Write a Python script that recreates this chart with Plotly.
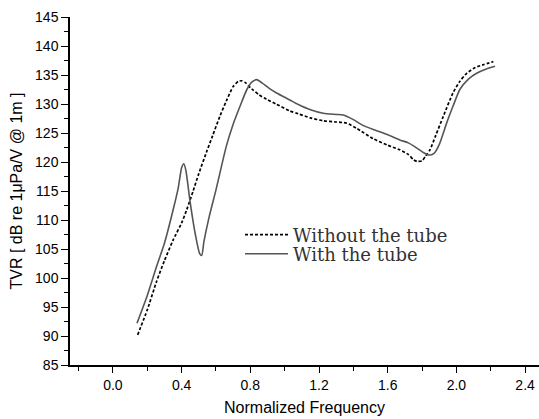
import plotly.graph_objects as go

# Normalized frequency / TVR (dB re 1uPa/V @ 1m) for the transducer without the tube
freq_without = [0.144, 0.20, 0.254, 0.30, 0.35, 0.40, 0.43, 0.467, 0.50, 0.546, 0.58,
                0.623, 0.66, 0.70, 0.73, 0.75, 0.775, 0.80, 0.817, 0.85, 0.895, 0.95,
                1.03, 1.08, 1.15, 1.225, 1.30, 1.36, 1.42, 1.516, 1.60, 1.67, 1.72,
                1.75, 1.77, 1.80, 1.82, 1.846, 1.88, 1.924, 1.98, 2.02, 2.06, 2.11,
                2.16, 2.215]
tvr_without = [90.2, 94.5, 99.4, 103.0, 106.5, 109.5, 111.8, 115.0, 118.0, 121.8, 124.5,
               127.9, 130.5, 133.0, 133.9, 134.0, 133.6, 132.8, 132.4, 131.6, 130.8, 130.0,
               128.8, 128.3, 127.6, 127.1, 126.9, 126.7, 125.8, 124.0, 122.9, 122.1, 121.3,
               120.4, 120.1, 120.2, 121.0, 122.1, 124.6, 127.9, 131.9, 133.9, 135.3, 136.3,
               136.8, 137.3]

# Same transducer with the tube
freq_with = [0.14, 0.20, 0.254, 0.30, 0.351, 0.38, 0.40, 0.413, 0.425, 0.45, 0.48,
             0.505, 0.517, 0.53, 0.56, 0.60, 0.66, 0.70, 0.74, 0.78, 0.81,
             0.837, 0.87, 0.91, 0.953, 1.03, 1.08, 1.15, 1.225, 1.30, 1.34, 1.40,
             1.45, 1.516, 1.60, 1.67, 1.72, 1.77, 1.81, 1.84, 1.87, 1.90, 1.943,
             1.98, 2.02, 2.07, 2.118, 2.17, 2.225]
tvr_with = [92.2, 97.0, 102.0, 106.0, 111.8, 115.5, 119.0, 119.7, 118.5, 113.0, 107.5,
            104.2, 103.9, 106.3, 110.5, 115.2, 122.7, 126.5, 129.6, 132.5, 133.8,
            134.2, 133.6, 132.7, 131.9, 130.7, 129.9, 129.0, 128.4, 128.2, 128.1, 127.3,
            126.4, 125.6, 124.7, 123.8, 123.3, 122.4, 121.6, 121.2, 121.5, 123.0, 126.7,
            129.6, 132.5, 134.3, 135.3, 136.0, 136.5]

series_names = ["Without the tube", "With the tube"]

fig = go.Figure()
fig.add_trace(go.Scatter(
    x=freq_without, y=tvr_without, mode="lines", name=series_names[0],
    line=dict(color="#000000", width=1.7, dash="3px,2px", shape="spline", smoothing=0.6),
    legend="legend",
))
fig.add_trace(go.Scatter(
    x=freq_with, y=tvr_with, mode="lines", name=series_names[1],
    line=dict(color="#555555", width=1.6, shape="spline", smoothing=0.6),
    legend="legend2",
))

axis_font = dict(family="Liberation Sans, Arial, sans-serif", size=14, color="#000000")
legend_style = dict(
    xanchor="left", yanchor="middle",
    bgcolor="rgba(0,0,0,0)", borderwidth=0,
    font=dict(family="DejaVu Serif, serif", size=18, color="#333333"),
    itemwidth=43,
)

fig.update_layout(
    width=539, height=419,
    margin=dict(l=70, r=0, t=17, b=54),
    paper_bgcolor="white", plot_bgcolor="white",
    showlegend=True,
    legend=dict(x=0.3625, y=0.3736, **legend_style),
    legend2=dict(x=0.3625, y=0.319, **legend_style),
)

fig.update_xaxes(
    range=[-0.25, 2.481], autorange=False,
    tick0=0, dtick=0.4, tickformat=".1f",
    ticks="outside", ticklen=6, tickwidth=1.3, tickcolor="black",
    minor=dict(dtick=0.2, tick0=0, ticks="outside", ticklen=4, tickwidth=1.3, tickcolor="black"),
    showline=True, linewidth=1.5, linecolor="black",
    showgrid=False, zeroline=False,
    tickfont=axis_font,
    title=dict(text="Normalized Frequency", standoff=10,
               font=dict(family="Liberation Sans, Arial, sans-serif", size=16, color="#000000")),
)
fig.update_yaxes(
    range=[85, 145], autorange=False,
    tick0=85, dtick=5,
    ticks="outside", ticklen=7, tickwidth=1.3, tickcolor="black",
    minor=dict(dtick=2.5, ticks="outside", ticklen=4, tickwidth=1.3, tickcolor="black"),
    showline=True, linewidth=1.5, linecolor="black",
    showgrid=False, zeroline=False,
    tickfont=axis_font,
    title=dict(text="TVR [ dB re 1\u03bcPa/V @ 1m ]", standoff=8,
               font=dict(family="Liberation Sans, Arial, sans-serif", size=16, color="#000000")),
)

fig.write_html("out.html")
